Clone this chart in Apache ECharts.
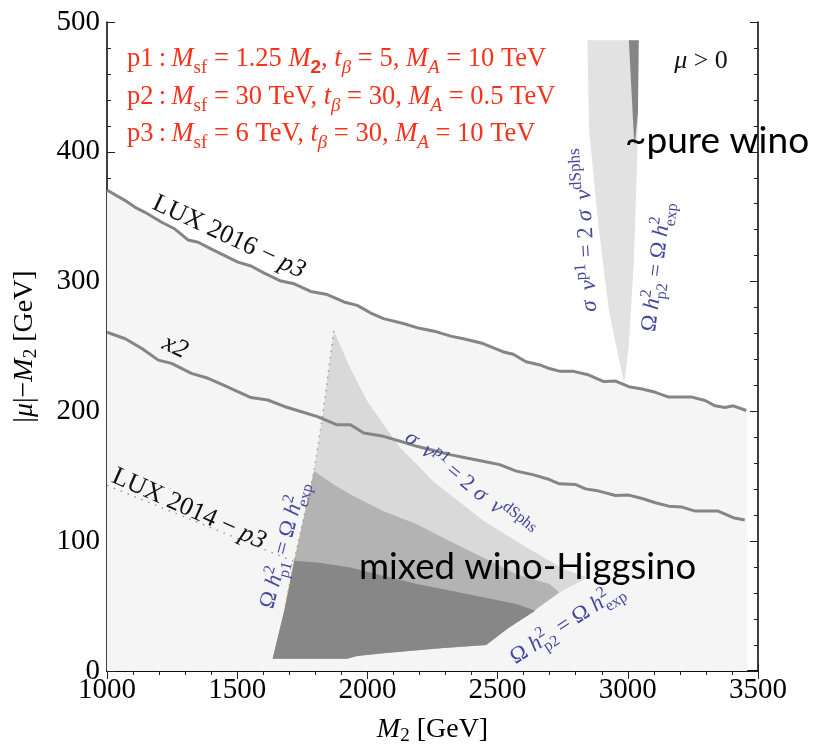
<!DOCTYPE html>
<html>
<head>
<meta charset="utf-8">
<script src="https://cdn.jsdelivr.net/npm/echarts@6/dist/echarts.min.js"></script>
<style>
  html, body { margin: 0; padding: 0; background: #fff; }
  #chart { width: 814px; height: 751px; }
</style>
</head>
<body>
<div id="chart"></div>
<script>
// ---- axis ranges / ticks ----
const xRange = [1000, 3500];
const yRange = [0, 500];
const xStep = 500;
const yStep = 100;

// ---- exclusion / constraint curves, (M2, |mu|-M2) in GeV ----
const lux2016 = [[1000,370.5],[1013,369],[1070,362.4],[1108,357.2],[1146,353.4],[1210,345.7],[1261,340.5],[1312,332],[1350,330.3],[1401,325],[1452,320],[1503,315],[1553,312],[1604,306.5],[1668,300.4],[1719,298.3],[1782,292.4],[1846,290],[1910,284.3],[1961,281.7],[2011,276],[2062,271.5],[2138,267.7],[2200,264],[2266,261.3],[2320,258],[2369,256],[2444,252.3],[2520,246],[2560,244],[2609,238.3],[2660,236],[2699,233],[2737,231],[2788,231],[2851,228],[2908,223],[2953,223.4],[3004,219],[3055,217.3],[3106,214.7],[3157,211],[3246,211],[3297,208.4],[3335,204.3],[3373,203],[3405,204.3],[3455,200.7]];

const luxTimes2 = [[1000,261],[1070,256],[1134,248.5],[1197,239.5],[1248,237],[1324,229.3],[1388,225.5],[1450,220],[1500,215.5],[1553,210.7],[1617,208.8],[1681,203.8],[1744,199.9],[1808,196],[1884,189.7],[1935,189.7],[1986,183.3],[2062,180.8],[2126,177],[2190,173.1],[2266,169.3],[2317,166.7],[2381,164.1],[2444,161.6],[2508,159],[2572,154],[2635,151.3],[2699,147.5],[2737,144.2],[2800,143.6],[2838,140.3],[2889,138.6],[2953,135.2],[3004,135.5],[3055,132.9],[3106,129.6],[3157,127],[3208,126.3],[3259,123.2],[3347,123.2],[3405,118.1],[3449,116.3]];

const lux2014 = [[1000,143],[1300,118.5],[1710,85],[2050,62],[2470,27]];

// relic-density line for p1 (left edge of the mixed region)
const omegaP1Edge = [[1871,262],[1827,195],[1795,154],[1719,85],[1681,46.6]];

// ---- shaded regions ----
const scanArea = lux2016.concat([[3459,200.7],[3459,0],[1000,0]]);

const sigmaRegion = [[1871,262],[1935,233],[1999,208],[2062,190],[2126,172],[2190,159],[2253,146],[2317,136],[2381,126],[2444,116],[2508,108],[2572,100],[2635,92.5],[2699,85],[2760,78],[2845,72],[2737,60.5],[2640,46.5],[2540,33],[2456,20],[2279,17.5],[2050,13.5],[1960,11.5],[1922,9.5],[1636,9.5],[1681,46.6],[1719,85],[1795,154],[1827,195]];

const p2Region = [[1795,154],[1871,143.6],[1935,136],[2062,123],[2190,113],[2317,100],[2444,87.4],[2572,74.6],[2699,67],[2737,60.5],[2640,46.5],[2540,33],[2456,20],[2279,17.5],[2050,13.5],[1960,11.5],[1922,9.5],[1636,9.5],[1681,46.6],[1719,85]];

const p1Region = [[1719,85],[1808,83.6],[1935,79.8],[2062,73.4],[2190,67],[2317,62],[2444,56.8],[2572,51.6],[2645,46.5],[2540,33],[2456,20],[2279,17.5],[2050,13.5],[1960,11.5],[1922,9.5],[1636,9.5],[1681,46.6]];

const winoWedge = [[2845,486],[3042,486],[3036,392],[3023,315],[3004,251],[2991,228],[2985,222],[2928,277],[2889,340],[2851,417]];
const winoSliver = [[3004,486],[3042,486],[3039,430],[3029,410],[3025,405]];

// ---- fonts / colours ----
const SERIF = '"Liberation Serif","Times New Roman",serif';
const SANS = 'Lato,"Open Sans",sans-serif';
const RED = '#f5331c';
const BLUE = '#46469c';

const chart = echarts.init(document.getElementById('chart'), null, { renderer: 'canvas' });

// text measuring for hand-built formulas
const mctx = document.createElement('canvas').getContext('2d');
function fontOf(size, italic, fam, bold) {
  return (italic ? 'italic ' : '') + (bold ? 'bold ' : '') + size + 'px ' + (fam || SERIF);
}
function textWidth(t, size, italic, fam, bold) {
  mctx.font = fontOf(size, italic, fam, bold);
  return mctx.measureText(t).width;
}
// Builds a (rotated) group of text pieces with sub/superscripts.
function formula(parts, size, color, opt) {
  const small = Math.round(size * (opt.scriptRatio || 0.66));
  const kids = [];
  let x = 0;
  const base = 0.34 * size;
  function put(t, fs, italic, dy, fam, bold) {
    kids.push({
      type: 'text', x: x, y: base + dy - 0.34 * fs, z: 100,
      style: { text: t, font: fontOf(fs, italic, fam, bold), fill: color,
               textAlign: 'left', textVerticalAlign: 'middle', align: 'left', verticalAlign: 'middle' }
    });
    return textWidth(t, fs, italic, fam, bold);
  }
  parts.forEach(function (p) {
    if (p.stack) {
      const w1 = put(p.stack[0], small, false, -0.42 * size);
      const w2 = put(p.stack[1], small, false, 0.27 * size);
      x += Math.max(w1, w2);
    } else if (p.sup !== undefined) {
      x += put(p.sup, small, p.i, -0.40 * size, p.fam, p.b);
    } else if (p.sub !== undefined) {
      x += put(p.sub, small, p.i, 0.24 * size, p.fam, p.b);
    } else if (p.gap !== undefined) {
      x += p.gap * size;
    } else {
      x += put(p.t, size, p.i, 0, p.fam, p.b);
    }
  });
  const shift = opt.align === 'left' ? 0 : -x / 2;
  kids.forEach(function (k) { k.x += shift; });
  return { type: 'group', x: opt.x, y: opt.y, rotation: (opt.rot || 0) * Math.PI / 180, children: kids, z: 100 };
}

function area(name, pts, color, z) {
  return {
    type: 'custom', name: name, coordinateSystem: 'cartesian2d', silent: true, z: z,
    data: [[pts[0][0], pts[0][1]]],
    renderItem: function (params, api) {
      return { type: 'polygon', shape: { points: pts.map(function (p) { return api.coord(p); }) },
               style: { fill: color, stroke: null } };
    }
  };
}
function curve(name, pts, style, z) {
  return { type: 'line', name: name, data: pts, showSymbol: false, silent: true, z: z,
           lineStyle: style, animation: false };
}

const red = function (label, rest) { return [{ t: label + '\u2009:\u2009' }].concat(rest); };
const line1 = red('p1', [{ t: 'M', i: 1 }, { sub: 'sf' }, { t: ' = 1.25 ' }, { t: 'M', i: 1 }, { sub: '2', fam: 'Liberation Sans', b: 1 }, { t: ', ' }, { t: 't', i: 1 }, { sub: 'β', i: 1 }, { t: ' = 5, ' }, { t: 'M', i: 1 }, { sub: 'A', i: 1 }, { t: ' = 10 TeV' }]);
const line2 = red('p2', [{ t: 'M', i: 1 }, { sub: 'sf' }, { t: ' = 30 TeV, ' }, { t: 't', i: 1 }, { sub: 'β', i: 1 }, { t: ' = 30, ' }, { t: 'M', i: 1 }, { sub: 'A', i: 1 }, { t: ' = 0.5 TeV' }]);
const line3 = red('p3', [{ t: 'M', i: 1 }, { sub: 'sf' }, { t: ' = 6 TeV, ' }, { t: 't', i: 1 }, { sub: 'β', i: 1 }, { t: ' = 30, ' }, { t: 'M', i: 1 }, { sub: 'A', i: 1 }, { t: ' = 10 TeV' }]);

const omegaP1 = [{ t: 'Ω ' }, { t: 'h', i: 1 }, { stack: ['2', 'p1'] }, { t: ' = Ω ' }, { t: 'h', i: 1 }, { stack: ['2', 'exp'] }];
const omegaP2 = [{ t: 'Ω ' }, { t: 'h', i: 1 }, { stack: ['2', 'p2'] }, { t: ' = Ω ' }, { t: 'h', i: 1 }, { stack: ['2', 'exp'] }];
const sigmaV = [{ t: 'σ', i: 1 }, { gap: 0.45 }, { t: 'v', i: 1 }, { sup: 'p1' }, { t: ' = 2 ' }, { t: 'σ', i: 1 }, { gap: 0.45 }, { t: 'v', i: 1 }, { sup: 'dSphs' }];

const graphics = [
  formula(line1, 26.5, RED, { x: 127, y: 59, align: 'left', scriptRatio: 0.7 }),
  formula(line2, 26.5, RED, { x: 127, y: 97, align: 'left', scriptRatio: 0.7 }),
  formula(line3, 26.5, RED, { x: 127, y: 134, align: 'left', scriptRatio: 0.7 }),
  formula([{ t: 'μ', i: 1 }, { t: ' > 0' }], 26, '#111', { x: 701, y: 61 }),
  formula([{ t: 'LUX 2016 − ' }, { t: 'p3', i: 1 }], 26, '#111', { x: 229, y: 237, rot: -25 }),
  formula([{ t: 'x2', i: 1 }], 26, '#111', { x: 175, y: 347, rot: -25 }),
  formula([{ t: 'LUX 2014 − ' }, { t: 'p3', i: 1 }], 26, '#111', { x: 189, y: 509, rot: -24 }),
  formula(omegaP1, 22.5, BLUE, { x: 284, y: 545, rot: 75, scriptRatio: 0.72 }),
  formula(sigmaV, 22.5, BLUE, { x: 469, y: 485, rot: -39, scriptRatio: 0.72 }),
  formula(omegaP2, 22.5, BLUE, { x: 567, y: 624, rot: 33, scriptRatio: 0.72 }),
  formula(sigmaV, 23, BLUE, { x: 586, y: 230, rot: 93, scriptRatio: 0.72 }),
  formula(omegaP2, 22.5, BLUE, { x: 657, y: 267, rot: 83, scriptRatio: 0.72 }),
  { type: 'text', x: 625, y: 141, z: 100,
    style: { text: '~pure wino', font: '37px ' + SANS, fill: '#000', textAlign: 'left', textVerticalAlign: 'middle', align: 'left', verticalAlign: 'middle' } },
  { type: 'text', x: 359, y: 567, z: 100,
    style: { text: 'mixed wino-Higgsino', font: '36.5px ' + SANS, fill: '#000', textAlign: 'left', textVerticalAlign: 'middle', align: 'left', verticalAlign: 'middle' } }
];

const frameLine = { show: true, lineStyle: { color: '#000', width: 1.5 } };
const tickIn = { show: true, inside: true, length: 8, lineStyle: { color: '#222', width: 1 } };
const minorIn = { show: true, splitNumber: 5, length: 4, lineStyle: { color: '#222', width: 1 } };
const tickFont = { fontFamily: SERIF, fontSize: 29, color: '#000', formatter: function (v) { return String(v); } };
const nameRich = {
  m: { fontFamily: SERIF, fontSize: 28, color: '#000', verticalAlign: 'top', lineHeight: 30 },
  i: { fontFamily: SERIF, fontSize: 28, fontStyle: 'italic', color: '#000', verticalAlign: 'top', lineHeight: 30 },
  s: { fontFamily: SERIF, fontSize: 19, color: '#000', verticalAlign: 'bottom', lineHeight: 19, padding: [14, 0, 0, 0] }
};

chart.setOption({
  animation: false,
  backgroundColor: '#fff',
  grid: { left: 105, right: 56, top: 22, bottom: 76 },
  xAxis: [
    { type: 'value', min: xRange[0], max: xRange[1], interval: xStep, position: 'bottom',
      axisLine: frameLine, axisTick: tickIn, minorTick: minorIn, splitLine: { show: false },
      axisLabel: Object.assign({ margin: 5 }, tickFont),
      name: '{i|M}{s|2}{m| [GeV]}', nameLocation: 'middle', nameGap: 45,
      nameTextStyle: { rich: nameRich } },
    { type: 'value', min: xRange[0], max: xRange[1], interval: xStep, position: 'top',
      axisLine: frameLine, axisTick: tickIn, minorTick: minorIn, splitLine: { show: false },
      axisLabel: { show: false } }
  ],
  yAxis: [
    { type: 'value', min: yRange[0], max: yRange[1], interval: yStep, position: 'left',
      axisLine: frameLine, axisTick: tickIn, minorTick: minorIn, splitLine: { show: false },
      axisLabel: Object.assign({ margin: 7 }, tickFont),
      name: '{m||}{i|μ}{m||−}{i|M}{s|2}{m| [GeV]}', nameLocation: 'middle', nameGap: 66, nameRotate: 90,
      nameTextStyle: { rich: nameRich } },
    { type: 'value', min: yRange[0], max: yRange[1], interval: yStep, position: 'right',
      axisLine: frameLine, axisTick: tickIn, minorTick: minorIn, splitLine: { show: false },
      axisLabel: { show: false } }
  ],
  series: [
    area('scan', scanArea, '#f5f5f5', 1),
    area('sigmaV p1 = 2 sigmaV dSphs', sigmaRegion, '#d9d9d9', 2),
    area('Omega h2 p2', p2Region, '#b3b3b3', 3),
    area('Omega h2 p1', p1Region, '#878787', 4),
    area('wino band', winoWedge, '#e2e2e2', 2),
    area('wino relic', winoSliver, '#858585', 3),
    curve('LUX 2014 - p3', lux2014, { color: '#8c8c8c', width: 1.4, type: [1.4, 6] }, 6),
    curve('Omega h2 p1 edge', omegaP1Edge, { color: '#b3a676', width: 1.6, type: [1.6, 5] }, 6),
    curve('LUX 2016 - p3', lux2016, { color: '#858585', width: 3 }, 7),
    curve('x2', luxTimes2, { color: '#858585', width: 3 }, 7)
  ],
  graphic: graphics
});
</script>
</body>
</html>
